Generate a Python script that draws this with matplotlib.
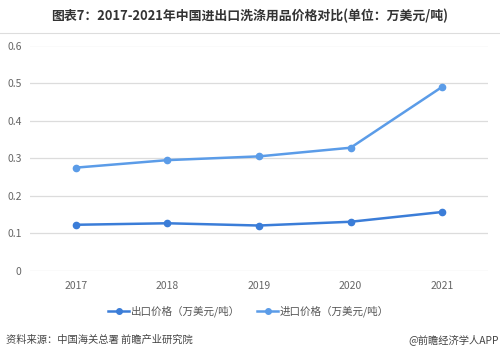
import matplotlib
matplotlib.use("Agg")
import matplotlib.pyplot as plt
from matplotlib.lines import Line2D

plt.rcParams['font.family'] = ['Noto Sans CJK SC', 'DejaVu Sans']

years = ['2017', '2018', '2019', '2020', '2021']
export_price = [0.123, 0.127, 0.121, 0.131, 0.157]
import_price = [0.275, 0.295, 0.305, 0.328, 0.490]
yticks = [0, 0.1, 0.2, 0.3, 0.4, 0.5, 0.6]
ytick_labels = ['0', '0.1', '0.2', '0.3', '0.4', '0.5', '0.6']
title = '图表7：2017-2021年中国进出口洗涤用品价格对比(单位：万美元/吨)'
label_export = '出口价格（万美元/吨）'
label_import = '进口价格（万美元/吨）'
source = '资料来源：中国海关总署 前瞻产业研究院'
credit = '@前瞻经济学人APP'

c_export = '#3b7dd8'
c_import = '#5b9ce8'

W, H = 500, 356
fig = plt.figure(figsize=(W/100, H/100), dpi=100)
fig.patch.set_facecolor('white')

left, right = 30, 488
y0, y6 = 271, 45.5
ax = fig.add_axes([left/W, 1 - y0/H, (right-left)/W, (y0 - y6)/H])
ax.set_ylim(0, 0.6)
x = list(range(len(years)))
ax.set_xlim(-0.5, len(years) - 0.5)

for yv in yticks:
    ax.axhline(yv, color='#dcdcdc', lw=0.9, zorder=0)

ax.plot(x, import_price, color=c_import, lw=1.8, marker='o', ms=4.5, zorder=3)
ax.plot(x, export_price, color=c_export, lw=1.8, marker='o', ms=4.5, zorder=3)

for s in ax.spines.values():
    s.set_visible(False)
ax.set_yticks(yticks)
ax.set_yticklabels(ytick_labels)
ax.set_xticks(x)
ax.set_xticklabels(years)
ax.tick_params(length=0, labelsize=7.5, colors='#666666')
ax.tick_params(axis='y', pad=6)
ax.tick_params(axis='x', pad=7)

fig.text(0.5, 1 - 16/H, title, ha='center', va='center', fontsize=9.3,
         fontweight='bold', color='#333333')
fig.add_artist(Line2D([0, 1], [1 - 33/H, 1 - 33/H], color='#dddddd', lw=0.8))

handles = [Line2D([], [], color=c_export, lw=1.8, marker='o', ms=4),
           Line2D([], [], color=c_import, lw=1.8, marker='o', ms=4)]
fig.legend(handles, [label_export, label_import], loc='center',
           bbox_to_anchor=(0.497, 1 - 311/H), ncol=2, frameon=False,
           fontsize=7.6, handlelength=2.0, columnspacing=1.6, handletextpad=0.15,
           labelcolor='#555555')

fig.text(6/W, 1 - 340/H, source, ha='left', va='center', fontsize=7.4, color='#444444')
fig.text(499/W, 1 - 340/H, credit, ha='right', va='center', fontsize=7.4, color='#444444')

fig.savefig('out.png', dpi=100, facecolor='white')
